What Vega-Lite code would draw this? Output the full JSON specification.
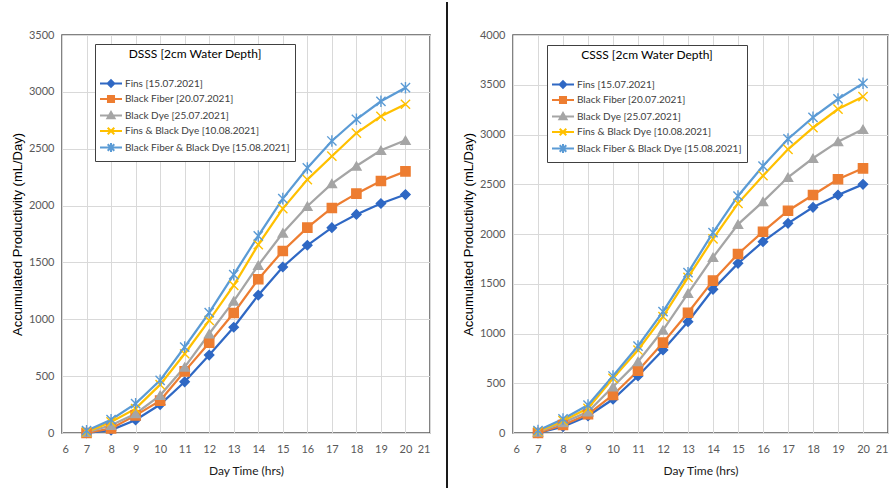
{
  "$schema": "https://vega.github.io/schema/vega-lite/v6.json",
  "padding": {"left": 10, "top": 0, "right": 0, "bottom": 0},
  "background": "#ffffff",
  "datasets": {
    "dsss": [
      {"hour": 7, "series": "Fins [15.07.2021]", "ml": 0},
      {"hour": 8, "series": "Fins [15.07.2021]", "ml": 25},
      {"hour": 9, "series": "Fins [15.07.2021]", "ml": 115},
      {"hour": 10, "series": "Fins [15.07.2021]", "ml": 250},
      {"hour": 11, "series": "Fins [15.07.2021]", "ml": 450},
      {"hour": 12, "series": "Fins [15.07.2021]", "ml": 685},
      {"hour": 13, "series": "Fins [15.07.2021]", "ml": 930},
      {"hour": 14, "series": "Fins [15.07.2021]", "ml": 1212},
      {"hour": 15, "series": "Fins [15.07.2021]", "ml": 1460},
      {"hour": 16, "series": "Fins [15.07.2021]", "ml": 1651},
      {"hour": 17, "series": "Fins [15.07.2021]", "ml": 1806},
      {"hour": 18, "series": "Fins [15.07.2021]", "ml": 1922},
      {"hour": 19, "series": "Fins [15.07.2021]", "ml": 2018},
      {"hour": 20, "series": "Fins [15.07.2021]", "ml": 2097},
      {"hour": 7, "series": "Black Fiber [20.07.2021]", "ml": 0},
      {"hour": 8, "series": "Black Fiber [20.07.2021]", "ml": 40},
      {"hour": 9, "series": "Black Fiber [20.07.2021]", "ml": 155},
      {"hour": 10, "series": "Black Fiber [20.07.2021]", "ml": 285},
      {"hour": 11, "series": "Black Fiber [20.07.2021]", "ml": 542},
      {"hour": 12, "series": "Black Fiber [20.07.2021]", "ml": 794},
      {"hour": 13, "series": "Black Fiber [20.07.2021]", "ml": 1055},
      {"hour": 14, "series": "Black Fiber [20.07.2021]", "ml": 1352},
      {"hour": 15, "series": "Black Fiber [20.07.2021]", "ml": 1601},
      {"hour": 16, "series": "Black Fiber [20.07.2021]", "ml": 1806},
      {"hour": 17, "series": "Black Fiber [20.07.2021]", "ml": 1979},
      {"hour": 18, "series": "Black Fiber [20.07.2021]", "ml": 2105},
      {"hour": 19, "series": "Black Fiber [20.07.2021]", "ml": 2216},
      {"hour": 20, "series": "Black Fiber [20.07.2021]", "ml": 2301},
      {"hour": 7, "series": "Black Dye [25.07.2021]", "ml": 5},
      {"hour": 8, "series": "Black Dye [25.07.2021]", "ml": 68},
      {"hour": 9, "series": "Black Dye [25.07.2021]", "ml": 170},
      {"hour": 10, "series": "Black Dye [25.07.2021]", "ml": 331},
      {"hour": 11, "series": "Black Dye [25.07.2021]", "ml": 580},
      {"hour": 12, "series": "Black Dye [25.07.2021]", "ml": 873},
      {"hour": 13, "series": "Black Dye [25.07.2021]", "ml": 1160},
      {"hour": 14, "series": "Black Dye [25.07.2021]", "ml": 1475},
      {"hour": 15, "series": "Black Dye [25.07.2021]", "ml": 1759},
      {"hour": 16, "series": "Black Dye [25.07.2021]", "ml": 1994},
      {"hour": 17, "series": "Black Dye [25.07.2021]", "ml": 2193},
      {"hour": 18, "series": "Black Dye [25.07.2021]", "ml": 2348},
      {"hour": 19, "series": "Black Dye [25.07.2021]", "ml": 2486},
      {"hour": 20, "series": "Black Dye [25.07.2021]", "ml": 2574},
      {"hour": 7, "series": "Fins & Black Dye [10.08.2021]", "ml": 10},
      {"hour": 8, "series": "Fins & Black Dye [10.08.2021]", "ml": 97},
      {"hour": 9, "series": "Fins & Black Dye [10.08.2021]", "ml": 214},
      {"hour": 10, "series": "Fins & Black Dye [10.08.2021]", "ml": 425},
      {"hour": 11, "series": "Fins & Black Dye [10.08.2021]", "ml": 697},
      {"hour": 12, "series": "Fins & Black Dye [10.08.2021]", "ml": 991},
      {"hour": 13, "series": "Fins & Black Dye [10.08.2021]", "ml": 1299},
      {"hour": 14, "series": "Fins & Black Dye [10.08.2021]", "ml": 1656},
      {"hour": 15, "series": "Fins & Black Dye [10.08.2021]", "ml": 1973},
      {"hour": 16, "series": "Fins & Black Dye [10.08.2021]", "ml": 2228},
      {"hour": 17, "series": "Fins & Black Dye [10.08.2021]", "ml": 2434},
      {"hour": 18, "series": "Fins & Black Dye [10.08.2021]", "ml": 2638},
      {"hour": 19, "series": "Fins & Black Dye [10.08.2021]", "ml": 2785},
      {"hour": 20, "series": "Fins & Black Dye [10.08.2021]", "ml": 2891},
      {"hour": 7, "series": "Black Fiber & Black Dye [15.08.2021]", "ml": 20},
      {"hour": 8, "series": "Black Fiber & Black Dye [15.08.2021]", "ml": 117},
      {"hour": 9, "series": "Black Fiber & Black Dye [15.08.2021]", "ml": 258},
      {"hour": 10, "series": "Black Fiber & Black Dye [15.08.2021]", "ml": 463},
      {"hour": 11, "series": "Black Fiber & Black Dye [15.08.2021]", "ml": 756},
      {"hour": 12, "series": "Black Fiber & Black Dye [15.08.2021]", "ml": 1058},
      {"hour": 13, "series": "Black Fiber & Black Dye [15.08.2021]", "ml": 1392},
      {"hour": 14, "series": "Black Fiber & Black Dye [15.08.2021]", "ml": 1733},
      {"hour": 15, "series": "Black Fiber & Black Dye [15.08.2021]", "ml": 2061},
      {"hour": 16, "series": "Black Fiber & Black Dye [15.08.2021]", "ml": 2331},
      {"hour": 17, "series": "Black Fiber & Black Dye [15.08.2021]", "ml": 2568},
      {"hour": 18, "series": "Black Fiber & Black Dye [15.08.2021]", "ml": 2759},
      {"hour": 19, "series": "Black Fiber & Black Dye [15.08.2021]", "ml": 2917},
      {"hour": 20, "series": "Black Fiber & Black Dye [15.08.2021]", "ml": 3037}
    ],
    "csss": [
      {"hour": 7, "series": "Fins [15.07.2021]", "ml": 0},
      {"hour": 8, "series": "Fins [15.07.2021]", "ml": 63},
      {"hour": 9, "series": "Fins [15.07.2021]", "ml": 171},
      {"hour": 10, "series": "Fins [15.07.2021]", "ml": 339},
      {"hour": 11, "series": "Fins [15.07.2021]", "ml": 573},
      {"hour": 12, "series": "Fins [15.07.2021]", "ml": 834},
      {"hour": 13, "series": "Fins [15.07.2021]", "ml": 1119},
      {"hour": 14, "series": "Fins [15.07.2021]", "ml": 1444},
      {"hour": 15, "series": "Fins [15.07.2021]", "ml": 1705},
      {"hour": 16, "series": "Fins [15.07.2021]", "ml": 1923},
      {"hour": 17, "series": "Fins [15.07.2021]", "ml": 2107},
      {"hour": 18, "series": "Fins [15.07.2021]", "ml": 2268},
      {"hour": 19, "series": "Fins [15.07.2021]", "ml": 2392},
      {"hour": 20, "series": "Fins [15.07.2021]", "ml": 2499},
      {"hour": 7, "series": "Black Fiber [20.07.2021]", "ml": 0},
      {"hour": 8, "series": "Black Fiber [20.07.2021]", "ml": 80},
      {"hour": 9, "series": "Black Fiber [20.07.2021]", "ml": 188},
      {"hour": 10, "series": "Black Fiber [20.07.2021]", "ml": 382},
      {"hour": 11, "series": "Black Fiber [20.07.2021]", "ml": 626},
      {"hour": 12, "series": "Black Fiber [20.07.2021]", "ml": 908},
      {"hour": 13, "series": "Black Fiber [20.07.2021]", "ml": 1209},
      {"hour": 14, "series": "Black Fiber [20.07.2021]", "ml": 1531},
      {"hour": 15, "series": "Black Fiber [20.07.2021]", "ml": 1799},
      {"hour": 16, "series": "Black Fiber [20.07.2021]", "ml": 2023},
      {"hour": 17, "series": "Black Fiber [20.07.2021]", "ml": 2234},
      {"hour": 18, "series": "Black Fiber [20.07.2021]", "ml": 2392},
      {"hour": 19, "series": "Black Fiber [20.07.2021]", "ml": 2550},
      {"hour": 20, "series": "Black Fiber [20.07.2021]", "ml": 2660},
      {"hour": 7, "series": "Black Dye [25.07.2021]", "ml": 10},
      {"hour": 8, "series": "Black Dye [25.07.2021]", "ml": 104},
      {"hour": 9, "series": "Black Dye [25.07.2021]", "ml": 214},
      {"hour": 10, "series": "Black Dye [25.07.2021]", "ml": 465},
      {"hour": 11, "series": "Black Dye [25.07.2021]", "ml": 717},
      {"hour": 12, "series": "Black Dye [25.07.2021]", "ml": 1035},
      {"hour": 13, "series": "Black Dye [25.07.2021]", "ml": 1404},
      {"hour": 14, "series": "Black Dye [25.07.2021]", "ml": 1766},
      {"hour": 15, "series": "Black Dye [25.07.2021]", "ml": 2097},
      {"hour": 16, "series": "Black Dye [25.07.2021]", "ml": 2325},
      {"hour": 17, "series": "Black Dye [25.07.2021]", "ml": 2570},
      {"hour": 18, "series": "Black Dye [25.07.2021]", "ml": 2761},
      {"hour": 19, "series": "Black Dye [25.07.2021]", "ml": 2928},
      {"hour": 20, "series": "Black Dye [25.07.2021]", "ml": 3052},
      {"hour": 7, "series": "Fins & Black Dye [10.08.2021]", "ml": 15},
      {"hour": 8, "series": "Fins & Black Dye [10.08.2021]", "ml": 124},
      {"hour": 9, "series": "Fins & Black Dye [10.08.2021]", "ml": 248},
      {"hour": 10, "series": "Fins & Black Dye [10.08.2021]", "ml": 550},
      {"hour": 11, "series": "Fins & Black Dye [10.08.2021]", "ml": 834},
      {"hour": 12, "series": "Fins & Black Dye [10.08.2021]", "ml": 1169},
      {"hour": 13, "series": "Fins & Black Dye [10.08.2021]", "ml": 1565},
      {"hour": 14, "series": "Fins & Black Dye [10.08.2021]", "ml": 1950},
      {"hour": 15, "series": "Fins & Black Dye [10.08.2021]", "ml": 2308},
      {"hour": 16, "series": "Fins & Black Dye [10.08.2021]", "ml": 2586},
      {"hour": 17, "series": "Fins & Black Dye [10.08.2021]", "ml": 2851},
      {"hour": 18, "series": "Fins & Black Dye [10.08.2021]", "ml": 3068},
      {"hour": 19, "series": "Fins & Black Dye [10.08.2021]", "ml": 3256},
      {"hour": 20, "series": "Fins & Black Dye [10.08.2021]", "ml": 3380},
      {"hour": 7, "series": "Black Fiber & Black Dye [15.08.2021]", "ml": 25},
      {"hour": 8, "series": "Black Fiber & Black Dye [15.08.2021]", "ml": 141},
      {"hour": 9, "series": "Black Fiber & Black Dye [15.08.2021]", "ml": 281},
      {"hour": 10, "series": "Black Fiber & Black Dye [15.08.2021]", "ml": 573},
      {"hour": 11, "series": "Black Fiber & Black Dye [15.08.2021]", "ml": 874},
      {"hour": 12, "series": "Black Fiber & Black Dye [15.08.2021]", "ml": 1219},
      {"hour": 13, "series": "Black Fiber & Black Dye [15.08.2021]", "ml": 1611},
      {"hour": 14, "series": "Black Fiber & Black Dye [15.08.2021]", "ml": 2013},
      {"hour": 15, "series": "Black Fiber & Black Dye [15.08.2021]", "ml": 2382},
      {"hour": 16, "series": "Black Fiber & Black Dye [15.08.2021]", "ml": 2683},
      {"hour": 17, "series": "Black Fiber & Black Dye [15.08.2021]", "ml": 2955},
      {"hour": 18, "series": "Black Fiber & Black Dye [15.08.2021]", "ml": 3173},
      {"hour": 19, "series": "Black Fiber & Black Dye [15.08.2021]", "ml": 3357},
      {"hour": 20, "series": "Black Fiber & Black Dye [15.08.2021]", "ml": 3514}
    ]
  },
  "spacing": 0,
  "bounds": "flush",
  "hconcat": [
    {
      "width": 368,
      "height": 398,
      "data": {"name": "dsss"},
      "encoding": {
        "x": {"field": "hour", "type": "quantitative", "scale": {"domain": [6, 21], "nice": false}, "axis": {"values": [6, 7, 8, 9, 10, 11, 12, 13, 14, 15, 16, 17, 18, 19, 20, 21], "title": "Day Time (hrs)"}},
        "y": {"field": "ml", "type": "quantitative", "scale": {"domain": [0, 3500], "nice": false}, "axis": {"values": [0, 500, 1000, 1500, 2000, 2500, 3000, 3500], "format": "d", "title": "Accumulated Productivity (mL/Day)"}}
      },
      "layer": [
        {
          "mark": {"type": "line", "strokeWidth": 2.25},
          "encoding": {
            "color": {"field": "series", "type": "nominal", "sort": null, "legend": null,
              "scale": {"domain": ["Fins [15.07.2021]", "Black Fiber [20.07.2021]", "Black Dye [25.07.2021]", "Fins & Black Dye [10.08.2021]", "Black Fiber & Black Dye [15.08.2021]"], "range": ["#2F68C4", "#ED7D31", "#A5A5A5", "#FFC000", "#5B9BD5"]}}
          }
        },
        {
          "transform": [{"filter": "datum.hour < 0"}],
          "mark": {"type": "point", "filled": true, "opacity": 1},
          "encoding": {
            "color": {"field": "series", "type": "nominal", "sort": null,
              "scale": {"domain": ["Fins [15.07.2021]", "Black Fiber [20.07.2021]", "Black Dye [25.07.2021]", "Fins & Black Dye [10.08.2021]", "Black Fiber & Black Dye [15.08.2021]"], "range": ["#2F68C4", "#ED7D31", "#A5A5A5", "#FFC000", "#5B9BD5"]},
              "legend": {"title": "DSSS [2cm Water Depth]", "orient": "none", "legendX": 33, "legendY": 9, "symbolSize": 121}},
            "stroke": {"field": "series", "type": "nominal", "sort": null,
              "scale": {"domain": ["Fins [15.07.2021]", "Black Fiber [20.07.2021]", "Black Dye [25.07.2021]", "Fins & Black Dye [10.08.2021]", "Black Fiber & Black Dye [15.08.2021]"], "range": ["#2F68C4", "#ED7D31", "#A5A5A5", "#FFC000", "#5B9BD5"]},
              "legend": {"title": "DSSS [2cm Water Depth]", "orient": "none", "legendX": 33, "legendY": 9, "symbolSize": 121}},
            "shape": {"field": "series", "type": "nominal", "sort": null,
              "scale": {"domain": ["Fins [15.07.2021]", "Black Fiber [20.07.2021]", "Black Dye [25.07.2021]", "Fins & Black Dye [10.08.2021]", "Black Fiber & Black Dye [15.08.2021]"], "range": ["M-2,0L2,0M0,-0.6L0.6,0L0,0.6L-0.6,0Z", "M-2,0L2,0M-0.55,-0.55L0.55,-0.55L0.55,0.55L-0.55,0.55Z", "M-2,0L2,0M0,-0.65L0.65,0.5L-0.65,0.5Z", "M-2,0L2,0M-0.6,-0.6L0.6,0.6M-0.6,0.6L0.6,-0.6", "M-2,0L2,0M-0.6,-0.6L0.6,0.6M-0.6,0.6L0.6,-0.6M0,-0.8L0,0.8"]},
              "legend": {"title": "DSSS [2cm Water Depth]", "orient": "none", "legendX": 33, "legendY": 9, "symbolSize": 121}}
          }
        },
        {
          "mark": {"type": "point", "filled": true, "opacity": 1, "size": 85, "strokeWidth": 1.4},
          "encoding": {
            "color": {"field": "series", "type": "nominal", "sort": null, "legend": null,
              "scale": {"domain": ["Fins [15.07.2021]", "Black Fiber [20.07.2021]", "Black Dye [25.07.2021]", "Fins & Black Dye [10.08.2021]", "Black Fiber & Black Dye [15.08.2021]"], "range": ["#2F68C4", "#ED7D31", "#A5A5A5", "#FFC000", "#5B9BD5"]}},
            "stroke": {"field": "series", "type": "nominal", "sort": null, "legend": null,
              "scale": {"domain": ["Fins [15.07.2021]", "Black Fiber [20.07.2021]", "Black Dye [25.07.2021]", "Fins & Black Dye [10.08.2021]", "Black Fiber & Black Dye [15.08.2021]"], "range": ["#2F68C4", "#ED7D31", "#A5A5A5", "#FFC000", "#5B9BD5"]}},
            "shape": {"field": "series", "type": "nominal", "sort": null, "legend": null,
              "scale": {"domain": ["Fins [15.07.2021]", "Black Fiber [20.07.2021]", "Black Dye [25.07.2021]", "Fins & Black Dye [10.08.2021]", "Black Fiber & Black Dye [15.08.2021]"], "range": ["diamond", "square", "triangle-up", "M-1,-1L1,1M-1,1L1,-1", "M-1,-1L1,1M-1,1L1,-1M0,-1.25L0,1.25"]}}
          }
        }
      ],
      "resolve": {"scale": {"color": "independent", "stroke": "independent", "shape": "independent"}}
    },
    {
      "width": 83,
      "height": 398,
      "view": {"stroke": null},
      "data": {"values": [{"edge": "divider"}]},
      "mark": {"type": "rule", "color": "#1a1a1a", "strokeWidth": 2},
      "encoding": {
        "x": {"datum": 17, "type": "quantitative", "scale": {"domain": [0, 83], "nice": false, "zero": false}, "axis": null},
        "y": {"datum": 1.083, "type": "quantitative", "scale": {"domain": [0, 1], "nice": false}, "axis": null},
        "y2": {"datum": -0.16}
      }
    },
    {
      "width": 375,
      "height": 398,
      "data": {"name": "csss"},
      "encoding": {
        "x": {"field": "hour", "type": "quantitative", "scale": {"domain": [6, 21], "nice": false}, "axis": {"values": [6, 7, 8, 9, 10, 11, 12, 13, 14, 15, 16, 17, 18, 19, 20, 21], "title": "Day Time (hrs)"}},
        "y": {"field": "ml", "type": "quantitative", "scale": {"domain": [0, 4000], "nice": false}, "axis": {"values": [0, 500, 1000, 1500, 2000, 2500, 3000, 3500, 4000], "format": "d", "title": "Accumulated Productivity (mL/Day)"}}
      },
      "layer": [
        {
          "mark": {"type": "line", "strokeWidth": 2.25},
          "encoding": {
            "color": {"field": "series", "type": "nominal", "sort": null, "legend": null,
              "scale": {"domain": ["Fins [15.07.2021]", "Black Fiber [20.07.2021]", "Black Dye [25.07.2021]", "Fins & Black Dye [10.08.2021]", "Black Fiber & Black Dye [15.08.2021]"], "range": ["#2F68C4", "#ED7D31", "#A5A5A5", "#FFC000", "#5B9BD5"]}}
          }
        },
        {
          "transform": [{"filter": "datum.hour < 0"}],
          "mark": {"type": "point", "filled": true, "opacity": 1},
          "encoding": {
            "color": {"field": "series", "type": "nominal", "sort": null,
              "scale": {"domain": ["Fins [15.07.2021]", "Black Fiber [20.07.2021]", "Black Dye [25.07.2021]", "Fins & Black Dye [10.08.2021]", "Black Fiber & Black Dye [15.08.2021]"], "range": ["#2F68C4", "#ED7D31", "#A5A5A5", "#FFC000", "#5B9BD5"]},
              "legend": {"title": "CSSS [2cm Water Depth]", "orient": "none", "legendX": 34, "legendY": 10, "symbolSize": 121}},
            "stroke": {"field": "series", "type": "nominal", "sort": null,
              "scale": {"domain": ["Fins [15.07.2021]", "Black Fiber [20.07.2021]", "Black Dye [25.07.2021]", "Fins & Black Dye [10.08.2021]", "Black Fiber & Black Dye [15.08.2021]"], "range": ["#2F68C4", "#ED7D31", "#A5A5A5", "#FFC000", "#5B9BD5"]},
              "legend": {"title": "CSSS [2cm Water Depth]", "orient": "none", "legendX": 34, "legendY": 10, "symbolSize": 121}},
            "shape": {"field": "series", "type": "nominal", "sort": null,
              "scale": {"domain": ["Fins [15.07.2021]", "Black Fiber [20.07.2021]", "Black Dye [25.07.2021]", "Fins & Black Dye [10.08.2021]", "Black Fiber & Black Dye [15.08.2021]"], "range": ["M-2,0L2,0M0,-0.6L0.6,0L0,0.6L-0.6,0Z", "M-2,0L2,0M-0.55,-0.55L0.55,-0.55L0.55,0.55L-0.55,0.55Z", "M-2,0L2,0M0,-0.65L0.65,0.5L-0.65,0.5Z", "M-2,0L2,0M-0.6,-0.6L0.6,0.6M-0.6,0.6L0.6,-0.6", "M-2,0L2,0M-0.6,-0.6L0.6,0.6M-0.6,0.6L0.6,-0.6M0,-0.8L0,0.8"]},
              "legend": {"title": "CSSS [2cm Water Depth]", "orient": "none", "legendX": 34, "legendY": 10, "symbolSize": 121}}
          }
        },
        {
          "mark": {"type": "point", "filled": true, "opacity": 1, "size": 85, "strokeWidth": 1.4},
          "encoding": {
            "color": {"field": "series", "type": "nominal", "sort": null, "legend": null,
              "scale": {"domain": ["Fins [15.07.2021]", "Black Fiber [20.07.2021]", "Black Dye [25.07.2021]", "Fins & Black Dye [10.08.2021]", "Black Fiber & Black Dye [15.08.2021]"], "range": ["#2F68C4", "#ED7D31", "#A5A5A5", "#FFC000", "#5B9BD5"]}},
            "stroke": {"field": "series", "type": "nominal", "sort": null, "legend": null,
              "scale": {"domain": ["Fins [15.07.2021]", "Black Fiber [20.07.2021]", "Black Dye [25.07.2021]", "Fins & Black Dye [10.08.2021]", "Black Fiber & Black Dye [15.08.2021]"], "range": ["#2F68C4", "#ED7D31", "#A5A5A5", "#FFC000", "#5B9BD5"]}},
            "shape": {"field": "series", "type": "nominal", "sort": null, "legend": null,
              "scale": {"domain": ["Fins [15.07.2021]", "Black Fiber [20.07.2021]", "Black Dye [25.07.2021]", "Fins & Black Dye [10.08.2021]", "Black Fiber & Black Dye [15.08.2021]"], "range": ["diamond", "square", "triangle-up", "M-1,-1L1,1M-1,1L1,-1", "M-1,-1L1,1M-1,1L1,-1M0,-1.25L0,1.25"]}}
          }
        }
      ],
      "resolve": {"scale": {"color": "independent", "stroke": "independent", "shape": "independent"}}
    }
  ],
  "resolve": {
    "scale": {"x": "independent", "y": "independent", "color": "independent", "shape": "independent", "stroke": "independent"},
    "legend": {"color": "independent", "shape": "independent", "stroke": "independent"}
  },
  "config": {
    "view": {"stroke": "#595959", "strokeWidth": 1.5},
    "axis": {
      "labelFont": "Lato",
      "labelFontSize": 11,
      "labelColor": "#595959",
      "gridColor": "#d9d9d9",
      "gridWidth": 1,
      "ticks": false,
      "domain": false
    },
    "axisX": {
      "labelPadding": 10,
      "titlePadding": 11,
      "titleFont": "Lato",
      "titleFontSize": 12,
      "titleFontWeight": "normal",
      "titleColor": "#1a1a1a"
    },
    "axisY": {
      "labelPadding": 8,
      "titlePadding": 4,
      "titleFont": "Liberation Sans",
      "titleFontSize": 13,
      "titleFontWeight": "normal",
      "titleColor": "#000000"
    },
    "legend": {
      "labelFont": "Lato",
      "labelFontSize": 10,
      "labelColor": "#404040",
      "labelLimit": 220,
      "titleFont": "Lato",
      "titleFontSize": 12,
      "titleFontWeight": "normal",
      "titleColor": "#000000",
      "titleAnchor": "middle",
      "titlePadding": 16,
      "strokeColor": "#404040",
      "fillColor": "#ffffff",
      "padding": 5,
      "rowPadding": 0.5,
      "symbolSize": 121,
      "symbolStrokeWidth": 2,
      "symbolOffset": 4.5,
      "labelOffset": 7.5
    }
  }
}
